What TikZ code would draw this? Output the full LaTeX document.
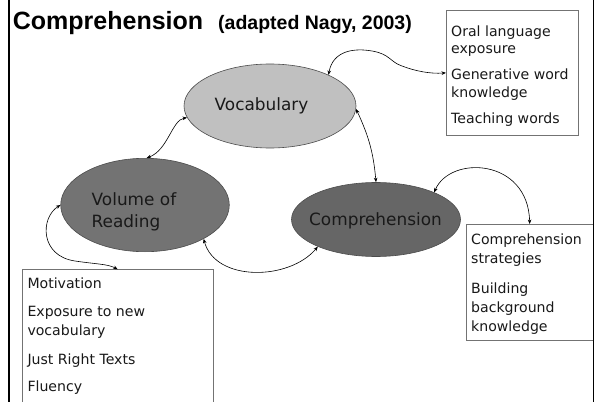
\documentclass[tikz,border=0pt]{standalone}
\usepackage{fontspec}
\setmainfont{DejaVu Sans}
\newfontfamily\titlefont{Liberation Sans}
\usetikzlibrary{shapes.geometric,arrows.meta}
\definecolor{vocfill}{HTML}{C0C0C0}
\definecolor{volfill}{HTML}{737373}
\definecolor{compfill}{HTML}{666666}
\begin{document}
\begin{tikzpicture}[x=1pt,y=-1pt,
  bubble/.style={ellipse,draw=black!70,line width=0.6pt,inner sep=0pt},
  infobox/.style={rectangle,draw=black!55,line width=0.7pt,inner sep=0pt,anchor=north west},
  boxtext/.style={anchor=base west,inner sep=0pt,font=\fontsize{14.1}{17}\selectfont,text=black!90},
  bubtext/.style={inner sep=0pt,font=\fontsize{16.9}{21}\selectfont,text=black!90},
  link/.style={line width=0.6pt,{Stealth[length=4.5pt,width=3.6pt]}-{Stealth[length=4.5pt,width=3.6pt]}}
]
\useasboundingbox (0,0) rectangle (596,401);
\clip (0,0) rectangle (596,401);
\fill[white] (0,0) rectangle (596,401);

% title
\node[anchor=base west,inner sep=0pt,font=\titlefont\bfseries\fontsize{25}{30}\selectfont] (title1) at (12.7,29.5) {Comprehension};
\node[anchor=base west,inner sep=0pt,font=\titlefont\bfseries\fontsize{19.5}{24}\selectfont] (title2) at (218,29.5) {(adapted Nagy, 2003)};

% ellipses
\node[bubble,fill=vocfill,minimum width=172pt,minimum height=84pt] (voc) at (270,106) {};
\node[bubble,fill=volfill,minimum width=168.6pt,minimum height=93.4pt] (vol) at (145,205) {};
\node[bubble,fill=compfill,minimum width=169pt,minimum height=74pt] (comp) at (376,219.5) {};

\node[bubtext,anchor=base] (voct) at (261.5,110.5) {Vocabulary};
\node[bubtext,anchor=base west] (volt1) at (91.5,205.7) {Volume of};
\node[bubtext,anchor=base west] (volt2) at (91.5,227.5) {Reading};
\node[bubtext,anchor=base] (compt) at (375.5,225.5) {Comprehension};

% boxes
\node[infobox,minimum width=131.5pt,minimum height=125pt] (oral) at (446,10) {};
\node[boxtext] (o1) at (451,36.5) {Oral language};
\node[boxtext] (o2) at (451,54) {exposure};
\node[boxtext] (o3) at (451,80) {Generative word};
\node[boxtext] (o4) at (451,97.5) {knowledge};
\node[boxtext] (o5) at (451,124) {Teaching words};

\node[infobox,minimum width=127.3pt,minimum height=116pt] (cbox) at (465.7,224) {};
\node[boxtext] (c1) at (471,244.3) {Comprehension};
\node[boxtext] (c2) at (471,263.3) {strategies};
\node[boxtext] (c3) at (471,293.3) {Building};
\node[boxtext] (c4) at (471,312.7) {background};
\node[boxtext] (c5) at (471,331.5) {knowledge};

\node[infobox,minimum width=191.3pt,minimum height=150pt] (mbox) at (21.7,269.3) {};
\node[boxtext] (m1) at (27.3,288) {Motivation};
\node[boxtext] (m2) at (27.3,316) {Exposure to new};
\node[boxtext] (m3) at (27.3,335) {vocabulary};
\node[boxtext] (m4) at (27.3,364) {Just Right Texts};
\node[boxtext] (m5) at (27.3,391.7) {Fluency};

% connectors
\draw[link] (voc.28.5) .. controls (333,50) and (355,48) .. (372,51)
   .. controls (390,54) and (390,62) .. (402,66)
   .. controls (415,71) and (430,74) .. (oral.west);
\draw[link] (voc.-2) to[out=-65,in=95] (comp.90);
\draw[link] (voc.188.5) .. controls (172,120) and (168,150) .. (vol.88);
\draw[link] (vol.-30.5) to[out=-75,in=-130] (comp.205);
\draw[link] (comp.25.2) .. controls (450,155) and (528,158) .. (cbox.north);
\draw[link] (vol.west) .. controls (40,218) and (40,256) .. (75,261)
   .. controls (95,264) and (108,264) .. (mbox.north);

% slide border
\draw[line width=2.5pt] (9,-2) -- (9,403);
\draw[line width=1pt] (593.5,-2) -- (593.5,403);
\end{tikzpicture}
\end{document}
